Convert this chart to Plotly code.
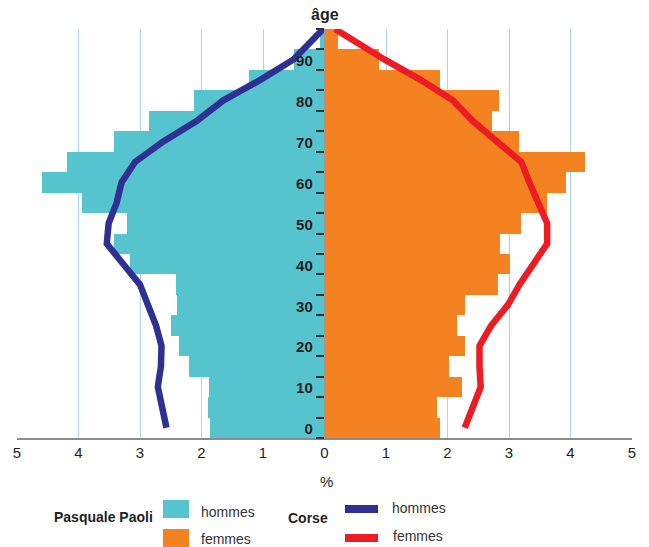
import plotly.graph_objects as go

# ---------------- data ----------------
age_centers = [2.5, 7.5, 12.5, 17.5, 22.5, 27.5, 32.5, 37.5, 42.5, 47.5,
               52.5, 57.5, 62.5, 67.5, 72.5, 77.5, 82.5, 87.5, 92.5, 97.5]
pp_hommes = [1.86, 1.89, 1.88, 2.20, 2.36, 2.49, 2.40, 2.41, 3.17, 3.43,
             3.21, 3.94, 4.59, 4.19, 3.42, 2.85, 2.12, 1.22, 0.50, 0.08]
pp_femmes = [1.87, 1.83, 2.23, 2.02, 2.29, 2.15, 2.29, 2.82, 3.01, 2.85,
             3.19, 3.61, 3.92, 4.23, 3.17, 2.73, 2.83, 1.87, 0.89, 0.22]

line_ages = [2.5, 7.5, 12.5, 17.5, 22.5, 27.5, 32.5, 37.5, 42.5, 47.5,
             52.5, 57.5, 62.5, 67.5, 72.5, 77.5, 82.5, 87.5, 92.5, 100]
corse_hommes = [2.57, 2.65, 2.71, 2.66, 2.65, 2.74, 2.86, 3.00, 3.27, 3.54,
                3.51, 3.38, 3.30, 3.08, 2.62, 2.08, 1.65, 1.05, 0.51, 0.02]
corse_femmes = [2.28, 2.41, 2.54, 2.52, 2.52, 2.71, 2.98, 3.17, 3.41, 3.62,
                3.62, 3.47, 3.33, 3.20, 2.82, 2.41, 2.09, 1.57, 0.98, 0.17]

x_tickvals = [-5, -4, -3, -2, -1, 0, 1, 2, 3, 4, 5]
x_ticktext = ["5", "4", "3", "2", "1", "0", "1", "2", "3", "4", "5"]
y_tickvals = [0, 5, 10, 15, 20, 25, 30, 35, 40, 45, 50, 55, 60, 65, 70,
              75, 80, 85, 90, 95, 100]
y_ticktext = ["0", "", "10", "", "20", "", "30", "", "40", "", "50", "",
              "60", "", "70", "", "80", "", "90", "", ""]

# ---------------- style ----------------
W, H = 649, 547
ML, MR, MT, MB = 17, 17, 29, 109
CYAN = "#55C4CF"
ORANGE = "#F58220"
BLUE = "#2E3192"
RED = "#ED1C24"
GRID = "#A9D5F2"
TXT = "#231F20"
FONT = "Liberation Sans, Arial, sans-serif"

PW = W - ML - MR
PH = H - MT - MB


def px_x(px):
    return (px - ML) / PW


def px_y(py):
    return (H - MB - py) / PH


fig = go.Figure()
fig.add_trace(go.Bar(y=age_centers, x=[-v for v in pp_hommes], orientation="h",
                     width=5, marker=dict(color=CYAN, line=dict(width=0)),
                     name="Pasquale Paoli hommes", showlegend=False))
fig.add_trace(go.Bar(y=age_centers, x=pp_femmes, orientation="h",
                     width=5, marker=dict(color=ORANGE, line=dict(width=0)),
                     name="Pasquale Paoli femmes", showlegend=False))
fig.add_trace(go.Scatter(y=line_ages, x=[-v for v in corse_hommes], mode="lines",
                         line=dict(color=BLUE, width=6.5), name="Corse hommes",
                         showlegend=False))
fig.add_trace(go.Scatter(y=line_ages, x=corse_femmes, mode="lines",
                         line=dict(color=RED, width=6.5), name="Corse femmes",
                         showlegend=False))

fig.update_layout(
    width=W, height=H,
    margin=dict(l=ML, r=MR, t=MT, b=MB, pad=0),
    paper_bgcolor="white", plot_bgcolor="white",
    barmode="overlay", bargap=0,
    font=dict(family=FONT, color=TXT),
    xaxis=dict(range=[-5, 5], tickvals=x_tickvals, ticktext=x_ticktext,
               showgrid=True, gridcolor=GRID, gridwidth=1.3, zeroline=False,
               showline=True, linecolor="#8C8C8C", linewidth=1.5,
               ticks="", tickfont=dict(size=15, color=TXT, family=FONT)),
    yaxis=dict(range=[0, 100], tickvals=y_tickvals, ticktext=y_ticktext,
               anchor="free", position=0.5, side="left",
               showgrid=False, zeroline=False,
               showline=True, linecolor="#9A9A9A", linewidth=1.5,
               ticks="outside", ticklen=8, tickwidth=1.5, tickcolor="#333333",
               ticklabelshift=-9,
               tickfont=dict(size=15, color=TXT, family=FONT, weight="bold")),
)

ann = []
ann.append(dict(text="<b>âge</b>", x=px_x(325), y=px_y(15), xref="paper", yref="paper",
                showarrow=False, font=dict(size=16, color=TXT), xanchor="center",
                yanchor="middle"))
ann.append(dict(text="%", x=px_x(326), y=px_y(481), xref="paper", yref="paper",
                showarrow=False, font=dict(size=15, color=TXT), xanchor="center",
                yanchor="middle"))
legend_texts = [
    ("<b>Pasquale Paoli</b>", 104, 517, TXT, "center"),
    ("hommes", 199, 512, "#333333", "left"),
    ("femmes", 199, 539, "#333333", "left"),
    ("<b>Corse</b>", 308, 518, TXT, "center"),
    ("hommes", 390, 508, "#333333", "left"),
    ("femmes", 391, 536, "#333333", "left"),
]
for t, x, y, c, xa in legend_texts:
    ann.append(dict(text=t, x=px_x(x), y=px_y(y), xref="paper", yref="paper",
                    showarrow=False, font=dict(size=14, color=c), xanchor=xa,
                    yanchor="middle"))
fig.update_layout(annotations=ann)

shapes = [
    dict(type="rect", xref="paper", yref="paper", x0=px_x(163), x1=px_x(189),
         y0=px_y(500), y1=px_y(518), fillcolor=CYAN, line=dict(width=0)),
    dict(type="rect", xref="paper", yref="paper", x0=px_x(163), x1=px_x(189),
         y0=px_y(529), y1=px_y(547), fillcolor=ORANGE, line=dict(width=0)),
    dict(type="line", xref="paper", yref="paper", x0=px_x(345), x1=px_x(378),
         y0=px_y(509), y1=px_y(509), line=dict(color=BLUE, width=8)),
    dict(type="line", xref="paper", yref="paper", x0=px_x(345), x1=px_x(378),
         y0=px_y(538), y1=px_y(538), line=dict(color=RED, width=8)),
]
fig.update_layout(shapes=shapes)

fig.write_html("out.html", config={"displayModeBar": False},
               post_script="document.body.style.margin='0px';document.body.style.padding='0px';")
